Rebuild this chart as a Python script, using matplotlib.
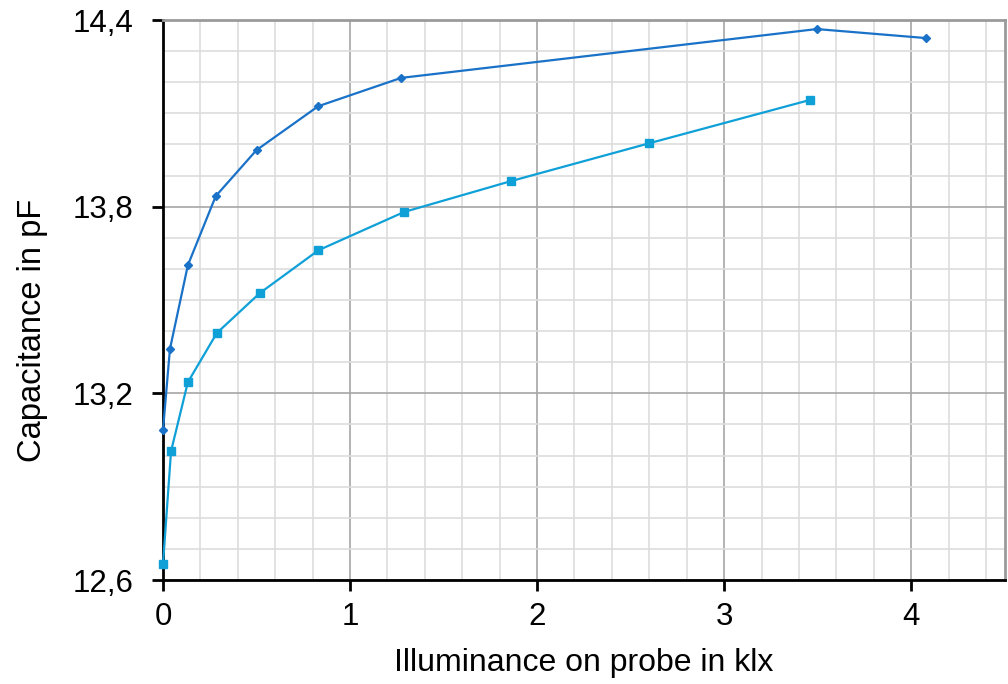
import matplotlib
matplotlib.use('Agg')
import matplotlib.pyplot as plt
from matplotlib.ticker import MultipleLocator, FuncFormatter

plt.rcParams['font.family'] = ['Liberation Sans', 'DejaVu Sans']

# upper curve (diamond markers)
lux_a = [0.0, 0.037, 0.133, 0.282, 0.50, 0.83, 1.273, 3.495, 4.08]
cap_a = [13.082, 13.342, 13.612, 13.834, 13.982, 14.123, 14.214, 14.371, 14.342]

# lower curve (square markers)
lux_b = [0.0, 0.043, 0.133, 0.288, 0.517, 0.831, 1.289, 1.859, 2.60, 3.458]
cap_b = [12.651, 13.014, 13.236, 13.394, 13.522, 13.660, 13.783, 13.882, 14.004, 14.143]

fig = plt.figure(figsize=(10.08, 6.84), dpi=100)
ax = fig.add_axes([0.1617, 0.152, 0.835, 0.8187])

ax.plot(lux_a, cap_a, color='#1a72c8', lw=1.6, marker='D', ms=4, zorder=3, clip_on=False)
ax.plot(lux_b, cap_b, color='#0fa0d8', lw=1.6, marker='s', ms=6, zorder=3, clip_on=False)

ax.set_xlim(0, 4.5)
ax.set_ylim(12.6, 14.4)
ax.xaxis.set_major_locator(MultipleLocator(1))
ax.xaxis.set_minor_locator(MultipleLocator(0.2))
ax.yaxis.set_major_locator(MultipleLocator(0.6))
ax.yaxis.set_minor_locator(MultipleLocator(0.1))
ax.yaxis.set_major_formatter(FuncFormatter(lambda v, p: f'{v:.1f}'.replace('.', ',')))

ax.grid(which='major', color='#a6a6a6', lw=1.2, zorder=1)
ax.grid(which='minor', color='#dddddd', lw=1.2, zorder=0)
ax.set_axisbelow(True)

ax.tick_params(which='major', direction='out', length=8, width=2, labelsize=22.5, colors='black')
ax.tick_params(axis='x', which='major', pad=7.5)
ax.tick_params(axis='y', which='major', pad=13)
ax.tick_params(which='minor', length=0)

for side in ('left', 'bottom'):
    ax.spines[side].set_color('black')
    ax.spines[side].set_linewidth(2)
for side in ('top', 'right'):
    ax.spines[side].set_color('#9a9a9a')
    ax.spines[side].set_linewidth(2)

ax.set_xlabel('Illuminance on probe in klx', fontsize=23, labelpad=11.5)
ax.set_ylabel('Capacitance in pF', fontsize=23.5)
ax.yaxis.set_label_coords(-0.137, 0.446)

fig.savefig('out.png', dpi=100)
